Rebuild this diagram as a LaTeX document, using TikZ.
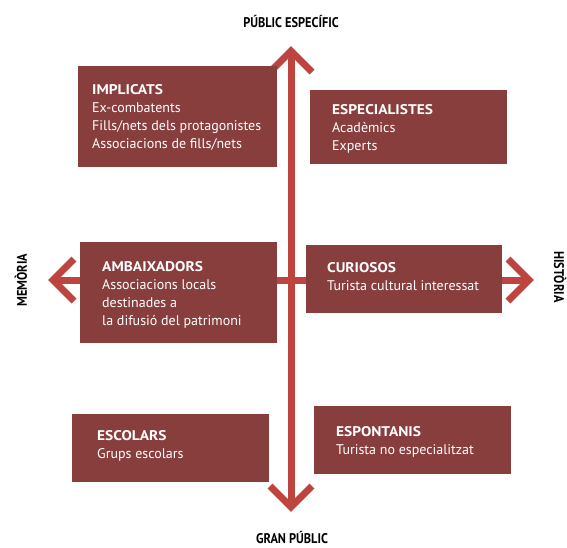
\documentclass[tikz,border=0pt]{standalone}
\usepackage{fontspec}
\setmainfont{PT Sans}
\newfontfamily\axisfont[FakeStretch=0.88]{PT Sans Bold}
\newfontfamily\titlefont[FakeStretch=1.1]{PT Sans Bold}
\definecolor{boxred}{HTML}{893E3E}
\definecolor{arrowred}{HTML}{BE443F}
\newcommand\catlines[1]{\begin{tabular}[t]{@{}l@{}}#1\end{tabular}}
\newcommand\cattitle[1]{{\titlefont #1}}
\begin{document}
\begin{tikzpicture}[x=1pt,y=-1pt,
  axisline/.style={draw=arrowred,line width=7pt,line join=miter,line cap=butt},
  catbox/.style={fill=boxred,draw=none},
  cattext/.style={anchor=base west,inner sep=0pt,text=white,font=\fontsize{14}{18}\selectfont},
  axislabel/.style={inner sep=0pt,anchor=base,font=\axisfont\fontsize{14}{16}\selectfont}]
\useasboundingbox (0,0) rectangle (567,547);
% axes
\coordinate (top) at (291,51);
\coordinate (bot) at (291,507);
\coordinate (lft) at (53,280);
\coordinate (rgt) at (529,280);
\draw[axisline] (top) -- (bot);
\draw[axisline] (lft) -- (rgt);
\draw[axisline] (270,72) -- (top) -- (312,72);
\draw[axisline] (270,486) -- (bot) -- (312,486);
\draw[axisline] (74,259) -- (lft) -- (74,301);
\draw[axisline] (508,259) -- (rgt) -- (508,301);
% boxes
\fill[catbox] (78,66) rectangle (277,167);
\fill[catbox] (310,90) rectangle (507,164);
\fill[catbox] (80,242) rectangle (277,343);
\fill[catbox] (306,245) rectangle (502,313);
\fill[catbox] (72,414) rectangle (269,482);
\fill[catbox] (314,406) rectangle (511,474);
% texts
\node[cattext] (implicats) at (92,94) {\catlines{\cattitle{IMPLICATS}\\Ex-combatents\\Fills/nets dels protagonistes\\Associacions de fills/nets}};
\node[cattext] (especialistes) at (332,114) {\catlines{\cattitle{ESPECIALISTES}\\Acadèmics\\Experts}};
\node[cattext] (ambaixadors) at (102,271) {\catlines{\cattitle{AMBAIXADORS}\\Associacions locals\\destinades a\\la difusió del patrimoni}};
\node[cattext] (curiosos) at (327,272) {\catlines{\cattitle{CURIOSOS}\\Turista cultural interessat}};
\node[cattext] (escolars) at (97,440) {\catlines{\cattitle{ESCOLARS}\\Grups escolars}};
\node[cattext] (espontanis) at (336,436) {\catlines{\cattitle{ESPONTANIS}\\Turista no especialitzat}};
% axis labels
\node[axislabel] (publicesp) at (291,27) {PÚBLIC ESPECÍFIC};
\node[axislabel] (granpublic) at (292,543) {GRAN PÚBLIC};
\node[axislabel,rotate=90] (memoria) at (27,280) {MEMÒRIA};
\node[axislabel,rotate=-90] (historia) at (554,277) {HISTÒRIA};
\end{tikzpicture}
\end{document}
